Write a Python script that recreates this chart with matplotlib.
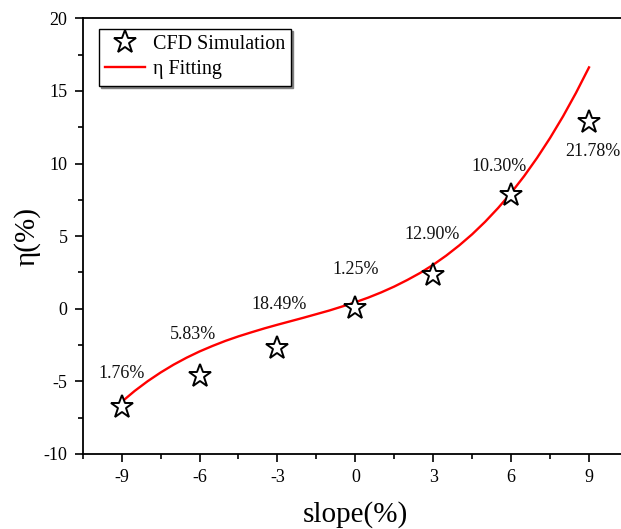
import matplotlib
matplotlib.use("Agg")
import matplotlib.pyplot as plt
from matplotlib.ticker import MultipleLocator

# ---- data ----
slope = [-9, -6, -3, 0, 3, 6, 9]
eta_cfd = [-6.76, -4.61, -2.72, 0.05, 2.33, 7.84, 12.84]
err_labels = ["1.76%", "5.83%", "18.49%", "1.25%", "12.90%", "10.30%", "21.78%"]
label_x = [-9.0, -6.25, -2.94, 0.0, 2.95, 5.52, 9.13]
label_y = [-4.49, -1.74, 0.26, 2.67, 5.08, 9.79, 10.82]

fit_x = [-9, -8.5, -8, -7.5, -7, -6.5, -6, -5.5, -5, -4.5, -4, -3.5, -3, -2.5,
         -2, -1.5, -1, -0.5, 0, 0.5, 1, 1.5, 2, 2.5, 3, 3.5, 4, 4.5, 5, 5.5,
         6, 6.5, 7, 7.5, 8, 8.5, 9]
fit_y = [-6.41, -5.66, -4.99, -4.39, -3.85, -3.37, -2.94, -2.56, -2.21, -1.90,
         -1.62, -1.35, -1.10, -0.86, -0.62, -0.37, -0.12, 0.16, 0.45, 0.77,
         1.13, 1.53, 1.98, 2.47, 3.03, 3.66, 4.36, 5.13, 5.99, 6.94,
         7.98, 9.13, 10.39, 11.76, 13.25, 14.87, 16.62]

xticks = [-9, -6, -3, 0, 3, 6, 9]
yticks = [-10, -5, 0, 5, 10, 15, 20]

plt.rcParams['font.family'] = ['Liberation Serif', 'DejaVu Serif']

fig = plt.figure(figsize=(6.21, 5.29), dpi=100)
ax = fig.add_axes([0.1332, 0.1418, 0.878, 0.8236])

ax.plot(fit_x, fit_y, color='#ff0000', lw=1.7, label='η Fitting', zorder=2,
        solid_joinstyle='round')
ax.plot(slope, eta_cfd, linestyle='none', marker='*', markersize=17,
        markerfacecolor='white', markeredgecolor='black', markeredgewidth=1.4,
        label='CFD Simulation', zorder=3)

for x, y, t in zip(label_x, label_y, err_labels):
    ax.text(x, y, t, ha='center', va='center', fontsize=13, color='#111111')

ax.set_xlim(-10.5, 10.5)
ax.set_ylim(-10, 20)
ax.set_xticks(xticks)
ax.set_xticklabels([str(v) for v in xticks])
ax.set_yticks(yticks)
ax.set_yticklabels([str(v) for v in yticks])
ax.xaxis.set_minor_locator(MultipleLocator(1.5))
ax.yaxis.set_minor_locator(MultipleLocator(2.5))
ax.tick_params(which='major', direction='out', length=6, width=1.2, labelsize=13, pad=5)
ax.tick_params(which='minor', direction='out', length=3.5, width=1.2)
ax.tick_params(top=False, right=False)
for s in ax.spines.values():
    s.set_linewidth(1.3)

ax.set_xlabel('slope(%)', fontsize=21, labelpad=11)
ax.set_ylabel('η(%)', fontsize=21)
ax.yaxis.set_label_coords(-0.078, 0.5)

h, l = ax.get_legend_handles_labels()
leg = ax.legend(h[::-1], l[::-1], loc='upper left', bbox_to_anchor=(0.029, 0.975),
                fontsize=14.5, frameon=True, fancybox=False,
                shadow={'ox': 1.5, 'oy': -1.5, 'color': '0.5', 'alpha': 1},
                borderpad=0.3, handlelength=2.0, handletextpad=0.4, labelspacing=0.3,
                borderaxespad=0)
leg.get_frame().set_edgecolor('black')
leg.get_frame().set_linewidth(1.0)

fig.savefig('out.png', dpi=100)
